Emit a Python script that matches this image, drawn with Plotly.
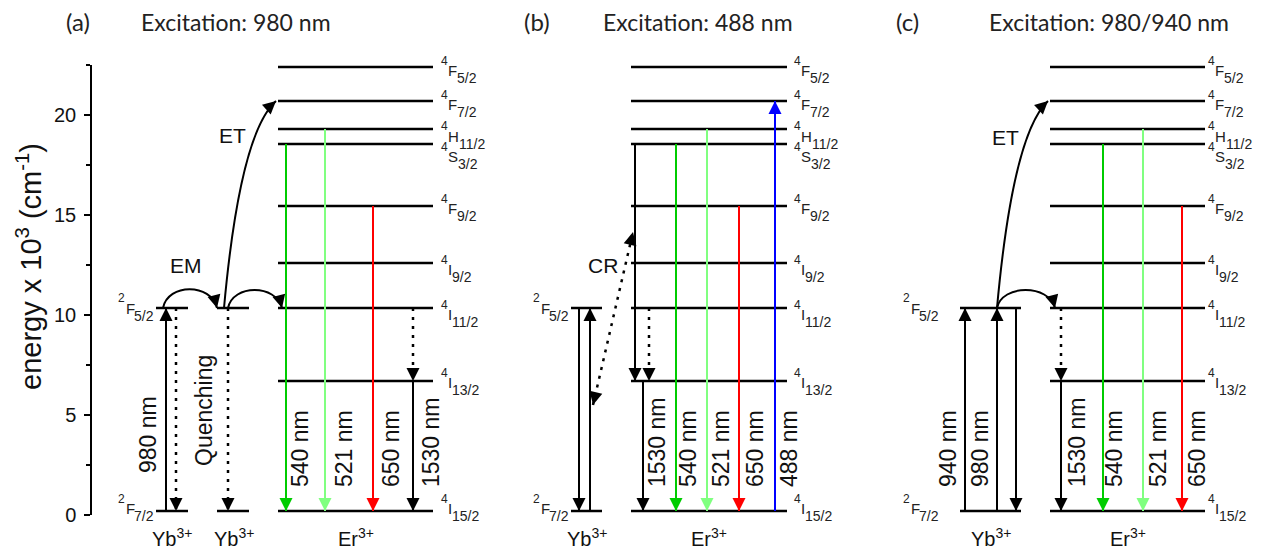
import plotly.graph_objects as go

# ---------------- data ----------------
er_levels = ["4I15/2", "4I13/2", "4I11/2", "4I9/2", "4F9/2", "4S3/2", "4H11/2", "4F7/2", "4F5/2"]
er_energy = [0.2, 6.7, 10.35, 12.6, 15.45, 18.55, 19.3, 20.7, 22.4]
yb_levels = ["2F7/2", "2F5/2"]
yb_energy = [0.2, 10.35]

panel_tags = ["(a)", "(b)", "(c)"]
panel_titles = ["Excitation: 980 nm", "Excitation: 488 nm", "Excitation: 980/940 nm"]
y_ticks = [0, 5, 10, 15, 20]

# transitions: panel, from-level, to-level, kind
trans_panel = ["a"] * 8 + ["b"] * 9 + ["c"] * 8
trans_from = ["2F7/2", "2F5/2", "2F5/2", "4S3/2", "4H11/2", "4F9/2", "4I11/2", "4I13/2",
              "2F5/2", "2F7/2", "4S3/2", "4I11/2", "4I13/2", "4S3/2", "4H11/2", "4F9/2", "4I15/2",
              "2F7/2", "2F7/2", "2F5/2", "4I11/2", "4I13/2", "4S3/2", "4H11/2", "4F9/2"]
trans_to = ["2F5/2", "2F7/2", "2F7/2", "4I15/2", "4I15/2", "4I15/2", "4I13/2", "4I15/2",
            "2F7/2", "2F5/2", "4I13/2", "4I13/2", "4I15/2", "4I15/2", "4I15/2", "4I15/2", "4F7/2",
            "2F5/2", "2F5/2", "2F7/2", "4I13/2", "4I15/2", "4I15/2", "4I15/2", "4I15/2"]
trans_kind = ["ir", "nr", "nr", "540", "521", "650", "nr", "ir",
              "ir", "ir", "ir", "nr", "ir", "540", "521", "650", "488",
              "ir", "ir", "ir", "nr", "ir", "540", "521", "650"]

# wavelength / process text labels
wl_text = ["980 nm", "Quenching", "540 nm", "521 nm", "650 nm", "1530 nm",
           "1530 nm", "540 nm", "521 nm", "650 nm", "488 nm",
           "940 nm", "980 nm", "1530 nm", "540 nm", "521 nm", "650 nm"]

# ---------------- layout / style ----------------
W, H = 1273, 553
ML, MT, MB = 92, 65, 38
Y_MAX = 22.5
PXE = (H - MT - MB) / Y_MAX          # pixels per energy unit


def paper_y(py):
    return (H - MB - py) / (H - MT - MB)


def paper_x(px):
    return (px - ML) / (W - ML)


E = dict(zip(er_levels, er_energy))
E.update(zip(yb_levels, yb_energy))

er_span = {"a": (278, 433), "b": (631, 787), "c": (1050, 1205)}
yb_span = {"a": [(156, 188), (217, 249)], "b": [(571, 602)], "c": [(960, 1021)]}
er_lab_x = {"a": 441, "b": 794, "c": 1208}
yb_lab_x = {"a": 154, "b": 569, "c": 939}

# term-symbol label typography (Liberation Sans advance widths, em)
SUP_FS, LET_FS, SUB_FS = 12, 15, 14
ADV = {"0": .556, "1": .556, "2": .556, "3": .556, "4": .556, "5": .556, "7": .556, "9": .556,
       "/": .278, "I": .278, "F": .611, "S": .667, "H": .722}
# vertical offsets (px below level) of sup / letter / sub, plus per-level adjustment
OFF_SUP, OFF_LET, OFF_SUB = -6.5, 3.5, 11
lab_adj = {"4F5/2": 0, "4F7/2": 0, "4H11/2": 3.5, "4S3/2": 9, "4F9/2": -1, "4I9/2": 3,
           "4I11/2": 3, "4I13/2": -2, "4I15/2": -6, "2F5/2": -3.5, "2F7/2": -6}


def wid(s, fs):
    return sum(ADV[c] for c in s) * fs


def term_label(x, e, name, align):
    sup, let, sub = name[0], name[1], name[2:]
    adj = lab_adj[name]
    w_sup, w_let, w_sub = wid(sup, SUP_FS), wid(let, LET_FS), wid(sub, SUB_FS)
    if align == "left":
        xs = [0, w_sup, w_sup + w_let]
    else:
        xs = [-(w_sub + w_let), -w_sub, 0]
    for txt, fs, xsft, off in zip([sup, let, sub], [SUP_FS, LET_FS, SUB_FS], xs,
                                  [OFF_SUP, OFF_LET, OFF_SUB]):
        fig.add_annotation(x=x, y=e, xref="x", yref="y", text=txt, showarrow=False,
                           xanchor=align, yanchor="middle", xshift=xsft, yshift=-(off + adj),
                           borderpad=0, borderwidth=0,
                           font=dict(family=ARIAL, size=fs, color="#222"))


trans_x = [166, 176, 228, 286, 325, 373, 413, 413,
           579, 590, 635, 649, 643, 676, 707, 739, 775,
           965, 997, 1016, 1061, 1061, 1103, 1143, 1182]
kind_color = {"ir": "black", "nr": "black", "540": "#00cc00", "521": "#80ff80",
              "650": "#ff0000", "488": "#0000ff"}

wl_x = [148, 204, 300, 344, 391, 431,
        657, 688, 721, 755, 789,
        948, 980, 1077, 1114, 1158, 1197]
wl_y = [4.0, 5.2, 3.3, 3.3, 3.3, 3.65,
        3.65, 3.3, 3.3, 3.3, 3.3,
        3.3, 3.3, 3.65, 3.3, 3.3, 3.3]

ARIAL = "Liberation Sans"
DOT = "3px,6px"

fig = go.Figure()

# energy levels
lx, ly = [], []
for p in "abc":
    x0, x1 = er_span[p]
    for e in er_energy:
        lx += [x0, x1, None]
        ly += [e, e, None]
    for (y0, y1) in yb_span[p]:
        for e in yb_energy:
            lx += [y0, y1, None]
            ly += [e, e, None]
fig.add_trace(go.Scatter(x=lx, y=ly, mode="lines", line=dict(color="black", width=2.5),
                         hoverinfo="skip", showlegend=False))


def head(xt, yt, dxp, dyp, color, L=11):
    n = (dxp ** 2 + dyp ** 2) ** 0.5
    fig.add_annotation(x=xt, y=yt, ax=xt - dxp / n * L, ay=yt - dyp / n * L / PXE,
                       xref="x", yref="y", axref="x", ayref="y", text="", showarrow=True,
                       arrowhead=2, arrowsize=1.3, arrowwidth=2, arrowcolor=color, standoff=0)


# vertical transitions
for p, f, t, k, x in zip(trans_panel, trans_from, trans_to, trans_kind, trans_x):
    col = kind_color[k]
    dotted = k == "nr"
    fig.add_trace(go.Scatter(x=[x, x], y=[E[f], E[t]], mode="lines",
                             line=dict(color=col, width=2.5 if dotted else 2,
                                       dash=DOT if dotted else "solid"),
                             hoverinfo="skip", showlegend=False))
    head(x, E[t], 0, (E[t] - E[f]), col)


# curved energy-transfer arrows (cubic Bezier paths)
def curve(p0, c1, c2, p3):
    path = f"M {p0[0]},{p0[1]} C {c1[0]},{c1[1]} {c2[0]},{c2[1]} {p3[0]},{p3[1]}"
    fig.add_shape(type="path", path=path, xref="x", yref="y",
                  line=dict(color="black", width=2), layer="above")
    head(p3[0], p3[1], p3[0] - c2[0], (p3[1] - c2[1]) * PXE, "black")


yb_hi = E["2F5/2"]
er_i11 = E["4I11/2"]
er_f7 = E["4F7/2"]
# panel a: EM arcs and ET
curve((163, yb_hi), (168, yb_hi + 1.25), (211, yb_hi + 1.25), (217, yb_hi))
curve((228, yb_hi), (233, yb_hi + 1.2), (276, er_i11 + 1.2), (282, er_i11))
curve((224, yb_hi), (232, 14.75), (246, 19.35), (276, er_f7))
# panel c
curve((997, yb_hi), (1002, yb_hi + 1.2), (1049, er_i11 + 1.2), (1055, er_i11))
curve((997, yb_hi), (1005, 14.75), (1019, 19.35), (1048, er_f7))

# panel b: cross relaxation (dotted, double headed)
cr_x = [593, 633]
cr_y = [5.5, 14.15]
fig.add_trace(go.Scatter(x=cr_x, y=cr_y, mode="lines",
                         line=dict(color="black", width=2.5, dash=DOT),
                         hoverinfo="skip", showlegend=False))
head(cr_x[0], cr_y[0], cr_x[0] - cr_x[1], (cr_y[0] - cr_y[1]) * PXE, "black")
head(cr_x[1], cr_y[1], cr_x[1] - cr_x[0], (cr_y[1] - cr_y[0]) * PXE, "black")

# level labels
for p in "abc":
    for e, n in zip(er_energy, er_levels):
        term_label(er_lab_x[p], e, n, "left")
    for e, n in zip(yb_energy, yb_levels):
        term_label(yb_lab_x[p], e, n, "right")

# wavelength labels
for t, x, y in zip(wl_text, wl_x, wl_y):
    fig.add_annotation(x=x, y=y, xref="x", yref="y", text=t, showarrow=False, textangle=-90,
                       xanchor="center", yanchor="middle",
                       font=dict(family=ARIAL, size=23, color="#111"))

# process labels
for t, x, y in [("EM", 186, 12.5), ("ET", 232, 19.0), ("CR", 603, 12.5), ("ET", 1005, 18.9)]:
    fig.add_annotation(x=x, y=y, xref="x", yref="y", text=t, showarrow=False,
                       xanchor="center", yanchor="middle",
                       font=dict(family=ARIAL, size=21, color="#111"))

# ion labels
for t, x in [("Yb<sup>3+</sup>", 172), ("Yb<sup>3+</sup>", 234), ("Er<sup>3+</sup>", 356),
             ("Yb<sup>3+</sup>", 587), ("Er<sup>3+</sup>", 709),
             ("Yb<sup>3+</sup>", 991), ("Er<sup>3+</sup>", 1128)]:
    fig.add_annotation(x=paper_x(x), y=paper_y(537), xref="paper", yref="paper", text=t,
                       showarrow=False, xanchor="center", yanchor="middle",
                       font=dict(family=ARIAL, size=20, color="#111"))

# panel titles
for tag, tx, ttl, tlx in zip(panel_tags, [78, 537, 907], panel_titles, [236, 698, 1109]):
    fig.add_annotation(x=paper_x(tx), y=paper_y(22), xref="paper", yref="paper", text=tag,
                       showarrow=False, xanchor="center", yanchor="middle",
                       font=dict(family="Lato", size=24, color="#222"))
    fig.add_annotation(x=paper_x(tlx), y=paper_y(22), xref="paper", yref="paper", text=ttl,
                       showarrow=False, xanchor="center", yanchor="middle",
                       font=dict(family="Lato", size=23, color="#222"))

# y-axis title
fig.add_annotation(x=paper_x(29), y=paper_y(267), xref="paper", yref="paper",
                   text="energy x 10<sup>3</sup> (cm<sup>-1</sup>)", textangle=-90, showarrow=False,
                   xanchor="center", yanchor="middle",
                   font=dict(family=ARIAL, size=29, color="#111"))

fig.update_layout(
    width=W, height=H, margin=dict(l=ML, r=0, t=MT, b=MB),
    paper_bgcolor="white", plot_bgcolor="white", showlegend=False,
    font=dict(family=ARIAL),
    xaxis=dict(range=[ML, W], visible=False, fixedrange=True),
    yaxis=dict(range=[0, Y_MAX], showline=True, linecolor="black", linewidth=1.5,
               ticks="outside", ticklen=6, tickwidth=1.5, tickcolor="black",
               tickvals=y_ticks, showgrid=False, zeroline=False, ticklabelstandoff=4,
               tickfont=dict(family=ARIAL, size=20, color="#111"),
               minor=dict(dtick=2.5, ticks="outside", ticklen=4, tickwidth=1.5, tickcolor="black",
                          showgrid=False)),
)

fig.write_html("out.html")
